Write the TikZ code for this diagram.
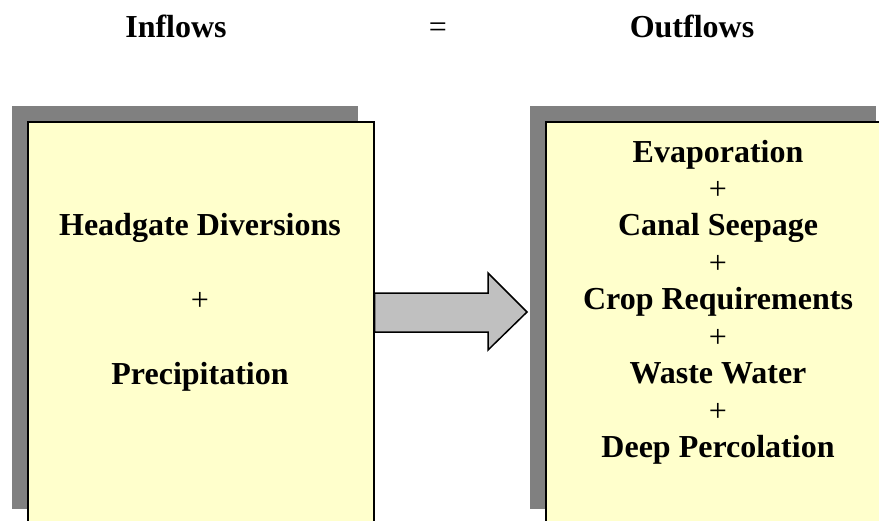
\documentclass[tikz,border=0pt]{standalone}
\usepackage{fontspec}
\setmainfont{Liberation Serif}
\usetikzlibrary{shadows}
\definecolor{boxfill}{HTML}{FFFFCC}
\definecolor{shadowgray}{HTML}{808080}
\definecolor{arrowgray}{HTML}{C0C0C0}
\tikzset{
  flowbox/.style={draw=black, line width=1.5pt, fill=boxfill, rectangle, anchor=north west,
    minimum width=346pt, minimum height=403pt, inner sep=0pt,
    drop shadow={shadow xshift=-16pt, shadow yshift=16pt, fill=shadowgray, opacity=1}},
  title/.style={anchor=base, inner sep=0pt, font=\fontsize{32}{38}\selectfont\bfseries},
  plus/.style={anchor=base, inner sep=0pt, font=\fontsize{32}{38}\selectfont},
  bigarrow/.style={draw=black, line width=1.5pt, fill=arrowgray, line join=miter}
}
\begin{document}
\begin{tikzpicture}[x=1pt, y=-1pt]
\useasboundingbox (0,0) rectangle (879,520);
\clip (0,0) rectangle (879,520);
\node[title] (inflows) at (176,37) {Inflows};
\node[plus] (eq) at (438,37) {=};
\node[title] (outflows) at (692,37) {Outflows};

\node[flowbox] (inbox) at (27,121) {};
\node[flowbox] (outbox) at (545,121) {};

\node[title] (hd) at (200,235) {Headgate Diversions};
\node[plus] (p1) at (200,310) {+};
\node[title] (pr) at (200,384) {Precipitation};

\node[title] (ev) at (718,162) {Evaporation};
\node[plus] (p2) at (718,199) {+};
\node[title] (cs) at (718,235) {Canal Seepage};
\node[plus] (p3) at (718,273) {+};
\node[title] (cr) at (718,309) {Crop Requirements};
\node[plus] (p4) at (718,347) {+};
\node[title] (ww) at (718,383) {Waste Water};
\node[plus] (p5) at (718,421) {+};
\node[title] (dp) at (718,457) {Deep Percolation};

\coordinate (a0) at (inbox.east |- 0,293);
\draw[bigarrow] (a0) -- (488,293) -- (488,273) -- (527,312) -- (488,350) -- (488,332) -- (inbox.east |- 0,332) -- cycle;
\end{tikzpicture}
\end{document}
